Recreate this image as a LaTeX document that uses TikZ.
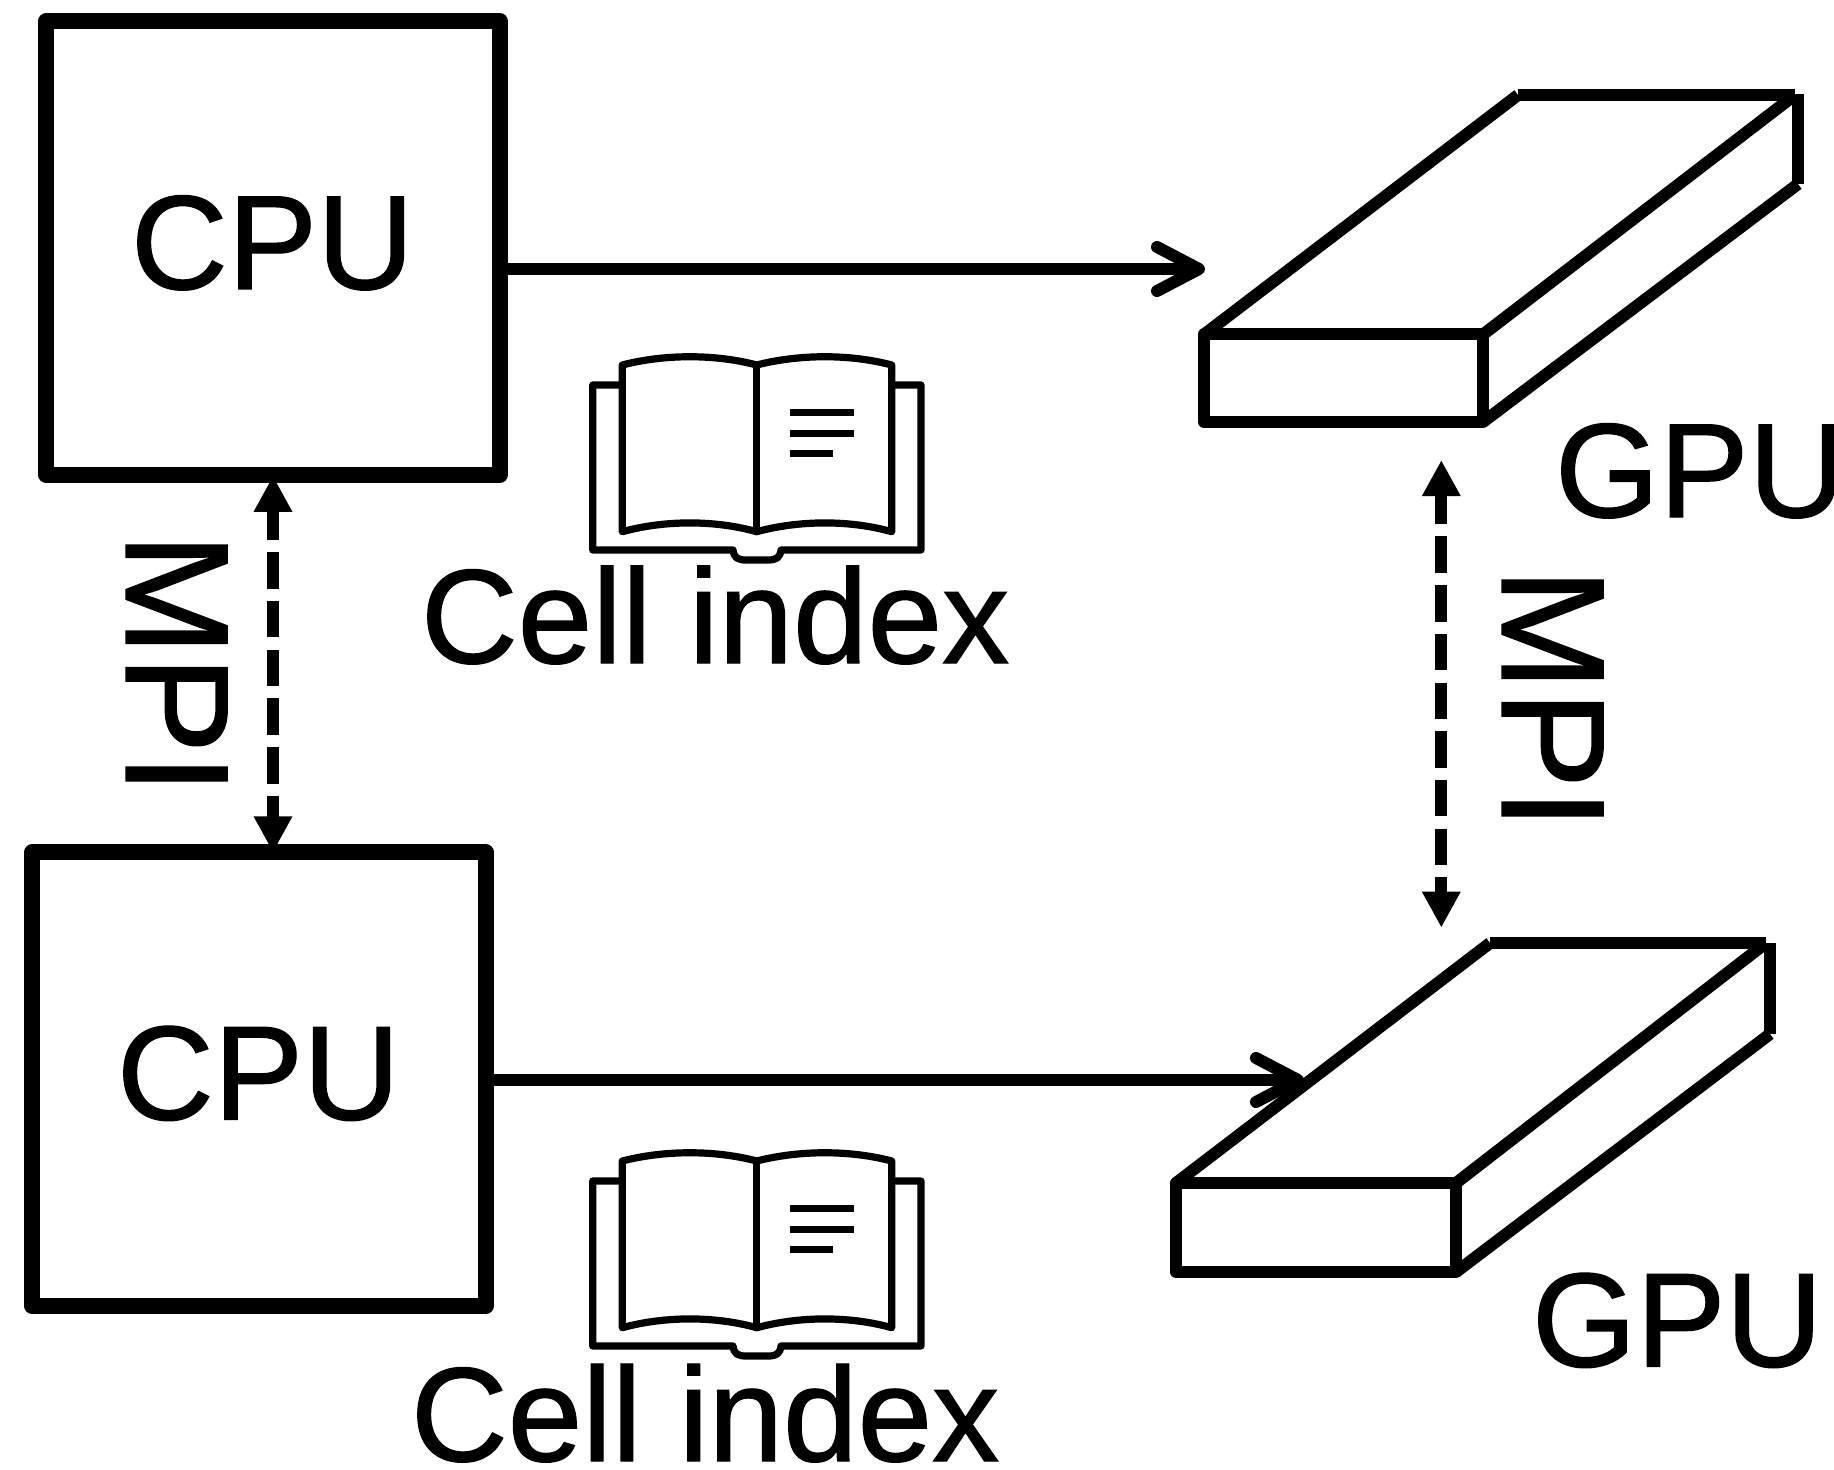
\documentclass[tikz,border=0pt]{standalone}
\usepackage{fontspec}
\setmainfont{Liberation Sans}
\newfontfamily\heavyfont[FakeBold=1.0]{Liberation Sans}
\usetikzlibrary{arrows.meta}
\tikzset{
  x=0.5pt,y=-0.5pt,
  lbl/.style={inner sep=0pt,outer sep=0pt,anchor=base west,font=\heavyfont\fontsize{67}{80}\selectfont},
  mpilbl/.style={inner sep=0pt,outer sep=0pt,anchor=base west,font=\heavyfont\fontsize{73.5}{88}\selectfont},
  cpubox/.style={draw,line width=8pt,line join=round,minimum width=226.75pt,minimum height=226.75pt,inner sep=0pt},
  gpuline/.style={line width=6pt,line join=round},
  openarrow/.style={line width=6pt,-{Straight Barb[round,length=21pt,width=22pt]}},
  mpiarrow/.style={line width=6pt,{Triangle[length=18pt,width=18pt]}-{Triangle[length=18pt,width=18pt]},dash pattern=on 18.25pt off 6.1pt,dash phase=3pt},
  bookline/.style={line width=3.6pt,line join=round,line cap=round},
  openbook/.pic={
    \draw[bookline] (622.3,385)--(592.7,385)--(592.7,550)--(733,550)
      .. controls (734,558) and (738,560) .. (746,560)--(768,560)
      .. controls (776,560) and (780,558) .. (781,550)--(921,550)--(921,385)--(891.7,385);
    \draw[bookline] (622.3,531.7)--(622.3,365)
      .. controls (665,354) and (715,354) .. (756.7,365)
      .. controls (800,354) and (850,354) .. (891.7,365)--(891.7,531.7)
      .. controls (850,520) and (800,520) .. (756.7,531.7)
      .. controls (715,520) and (665,520) .. (622.3,531.7)--cycle;
    \draw[bookline] (756.7,365)--(756.7,531.7);
    \draw[line width=3.6pt] (790,412.3)--(854,412.3);
    \draw[line width=3.6pt] (790,433.3)--(854,433.3);
    \draw[line width=3.6pt] (790,453.3)--(833,453.3);
  }
}
\begin{document}
\begin{tikzpicture}
\useasboundingbox (0,0) rectangle (1834,1470);
\fill[white] (0,0) rectangle (1834,1470);
% CPU boxes
\node[cpubox] (cpua) at (273,248) {};
\node[cpubox] (cpub) at (259,1079.2) {};
\node[lbl] (cpuatext) at (131,289) {CPU};
\node[lbl] (cpubtext) at (117,1119.5) {CPU};
% GPU A
\coordinate (ga1) at (1204,334.5);
\coordinate (ga2) at (1483,334.5);
\coordinate (ga3) at (1483,422);
\coordinate (ga4) at (1204,422);
\coordinate (ga5) at (1518,95);
\coordinate (ga6) at (1795,95);
\coordinate (ga7) at (1798,94);
\coordinate (ga8) at (1798,184);
\draw[gpuline] (ga1)--(ga2)--(ga3)--(ga4)--cycle;
\draw[gpuline] (ga1)--(ga5);
\draw[gpuline] (ga5)--(ga6);
\draw[gpuline] (ga2)--(ga6);
\draw[gpuline] (ga7)--(ga8);
\draw[gpuline] (ga3)--(ga8);
% GPU B
\coordinate (gb1) at (1176,1183);
\coordinate (gb2) at (1456,1183);
\coordinate (gb3) at (1456,1272);
\coordinate (gb4) at (1176,1272);
\coordinate (gb5) at (1490,943);
\coordinate (gb6) at (1766,943);
\coordinate (gb7) at (1770,943);
\coordinate (gb8) at (1770,1034);
\draw[gpuline] (gb1)--(gb2)--(gb3)--(gb4)--cycle;
\draw[gpuline] (gb1)--(gb5);
\draw[gpuline] (gb5)--(gb6);
\draw[gpuline] (gb2)--(gb6);
\draw[gpuline] (gb7)--(gb8);
\draw[gpuline] (gb3)--(gb8);
\node[lbl] (gpuatext) at (1555,517) {GPU};
\node[lbl] (gpubtext) at (1532,1366.5) {GPU};
% connectors
\coordinate (tipa) at (1205,269);
\coordinate (tipb) at (1304,1080);
\draw[openarrow] (cpua.east |- tipa)--(tipa);
\draw[openarrow] (cpub.east |- tipb)--(tipb);
\coordinate (lefttop) at ([yshift=3.5pt]cpua.south);
\coordinate (leftbot) at ([yshift=-4pt]cpua.south |- cpub.north);
\draw[mpiarrow] (lefttop)--(leftbot);
\coordinate (mpita) at (1441.3,460);
\coordinate (mpitb) at (1441.3,927.7);
\draw[mpiarrow] (mpita)--(mpitb);
% MPI labels
\node[mpilbl,rotate=-90] (mpia) at (126,533) {MPI};
\node[mpilbl,rotate=-90] (mpib) at (1502,568) {MPI};
% books
\pic {openbook};
\pic[yshift=-398pt] {openbook};
\node[lbl] (cella) at (421,663) {Cell index};
\node[lbl] (cellb) at (411,1461) {Cell index};
\end{tikzpicture}
\end{document}
